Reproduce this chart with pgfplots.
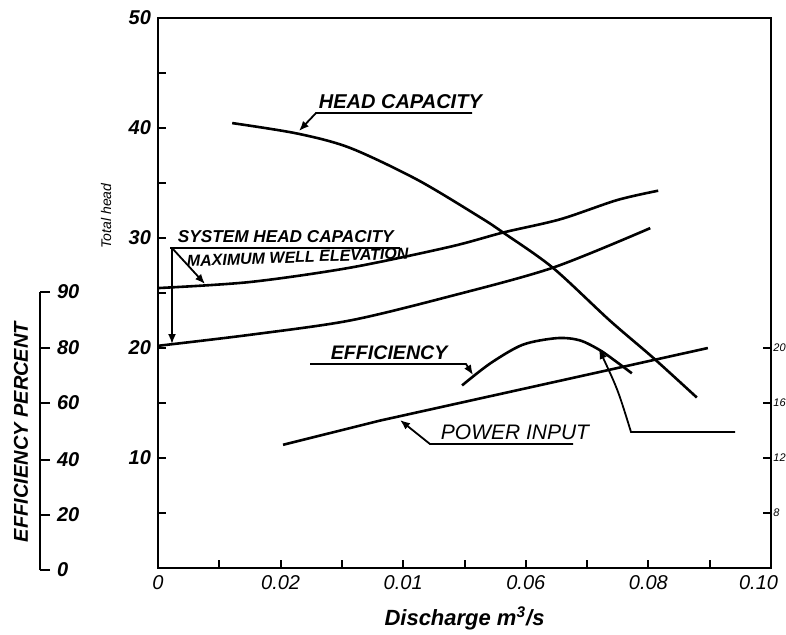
\documentclass[border=0pt]{standalone}
\usepackage{fontspec}
\setmainfont{Liberation Sans}
\usepackage{pgfplots}
\pgfplotsset{compat=1.18}
\usetikzlibrary{arrows.meta}
\begin{document}
\begin{tikzpicture}
% main axis
\begin{axis}[
  at={(79pt,-284pt)}, anchor=south west,
  scale only axis, width=306.5pt, height=275pt,
  xmin=0, xmax=0.1, ymin=0, ymax=50,
  axis line style={line width=1.3pt},
  xtick={0,0.01,0.02,0.03,0.04,0.05,0.06,0.07,0.08,0.09,0.1},
  xticklabels={0,,0.02,,0.01,,0.06,,0.08,,\makebox[0pt][r]{0.10\hspace*{-3.5pt}}},
  ytick={0,5,10,15,20,25,30,35,40,45,50},
  yticklabels={,,10,,20,,30,,40,,50},
  xtick pos=bottom, ytick pos=left,
  tick align=inside, major tick length=4pt,
  tick style={line width=1pt, black},
  /pgf/number format/assume math mode=true,
  xticklabel style={font=\fontsize{10}{12}\selectfont\itshape},
  yticklabel style={font=\fontsize{10}{12}\selectfont\bfseries\itshape},
  xlabel={Discharge m\textsuperscript{3}/s},
  xlabel style={font=\fontsize{11}{13}\selectfont\bfseries\itshape, yshift=-2pt},
  clip=false,
]
% head capacity
\addplot[line width=1.3pt, smooth, black] coordinates {
(0.0121,40.45)(0.0227,39.5)(0.0313,38.2)(0.0423,35.3)(0.0525,31.9)(0.0563,30.5)(0.0644,27.3)(0.0737,22.5)(0.0808,19.1)(0.0879,15.5)};
% system head capacity (upper)
\addplot[line width=1.3pt, smooth, black] coordinates {
(0,25.45)(0.015,26.0)(0.0313,27.3)(0.0476,29.2)(0.0563,30.5)(0.0656,31.7)(0.0749,33.45)(0.0816,34.3)};
% maximum well elevation (lower)
\addplot[line width=1.3pt, smooth, black] coordinates {
(0,20.2)(0.015,21.2)(0.0313,22.5)(0.0476,24.7)(0.0644,27.3)(0.0803,30.9)};
% efficiency
\addplot[line width=1.3pt, smooth, black] coordinates {
(0.0496,16.6)(0.0542,18.6)(0.0595,20.3)(0.0651,20.9)(0.0688,20.7)(0.0721,19.8)(0.0749,18.7)(0.0773,17.7)};
% power input
\addplot[line width=1.3pt, black] coordinates {
(0.0204,11.2)(0.0362,13.4)(0.0897,20.0)};
\end{axis}
% right axis (power)
\begin{axis}[
  at={(79pt,-284pt)}, anchor=south west,
  scale only axis, width=306.5pt, height=275pt,
  xmin=0, xmax=0.1, ymin=0, ymax=50,
  axis x line=none, axis y line*=right,
  axis line style={line width=1.3pt,-},
  ytick={5,10,15,20}, yticklabels={8,12,16,20},
  tick align=inside, major tick length=4pt,
  tick style={line width=1pt, black},
  yticklabel style={font=\fontsize{5.5}{6}\selectfont\itshape, inner sep=0pt, xshift=1pt},
]
\addplot[draw=none] coordinates {(0,0)};
\end{axis}
% efficiency scale
\begin{axis}[
  at={(20pt,-285pt)}, anchor=south east,
  scale only axis, width=20pt, height=139pt,
  xmin=0, xmax=1, ymin=0, ymax=278,
  axis x line=none, axis y line*=right,
  axis line style={line width=1.3pt,-},
  ytick={0,55,110,167,222,278}, yticklabels={0,20,40,60,80,90},
  tick align=outside, major tick length=5pt,
  tick style={line width=1pt, black},
  yticklabel style={font=\fontsize{10}{12}\selectfont\bfseries\itshape},
]
\addplot[draw=none] coordinates {(0,0)};
\end{axis}
\begin{scope}[x=0.5pt, y=-0.5pt, line width=0.9pt, >={Latex[length=5pt,width=4pt]}]
  % HEAD CAPACITY
  \node[font=\fontsize{10}{12}\selectfont\bfseries\itshape, anchor=west, inner sep=0pt] at (318,102) {HEAD CAPACITY};
  \draw[->] (472,113) -- (316,113) -- (299,131);
  % SYSTEM HEAD CAPACITY / MAXIMUM WELL ELEVATION
  \node[font=\fontsize{8.6}{10}\selectfont\bfseries\itshape, anchor=west, inner sep=0pt] at (177,237) {SYSTEM HEAD CAPACITY};
  \draw (170,248) -- (400,248);
  \node[font=\fontsize{8}{9}\selectfont\bfseries\itshape, anchor=west, inner sep=0pt, rotate=2] at (186,261) {MAXIMUM WELL ELEVATION};
  \draw[->] (172,248) -- (205,284);
  \draw[->] (172,248) -- (172,344);
  % EFFICIENCY
  \node[font=\fontsize{9.8}{12}\selectfont\bfseries\itshape, anchor=west, inner sep=0pt] at (330,353) {EFFICIENCY};
  \draw[->] (310,364) -- (466,364) -- (473,375);
  \draw[->] (735,432) -- (631,432) .. controls (618,390) .. (599,349);
  % POWER INPUT
  \node[font=\fontsize{10.5}{12}\selectfont\itshape, anchor=west, inner sep=0pt] at (440,432) {POWER INPUT};
  \draw[->] (573,444) -- (430,444) -- (400,420);
  % axis titles
  \node[font=\fontsize{7}{8}\selectfont\itshape, rotate=90] at (106,216) {Total head};
  \node[font=\fontsize{10}{12}\selectfont\bfseries\itshape, rotate=90] at (21,432) {EFFICIENCY PERCENT};
  \pgfresetboundingbox
  \path[use as bounding box] (0,0) rectangle (786,634);
\end{scope}
\end{tikzpicture}
\end{document}
